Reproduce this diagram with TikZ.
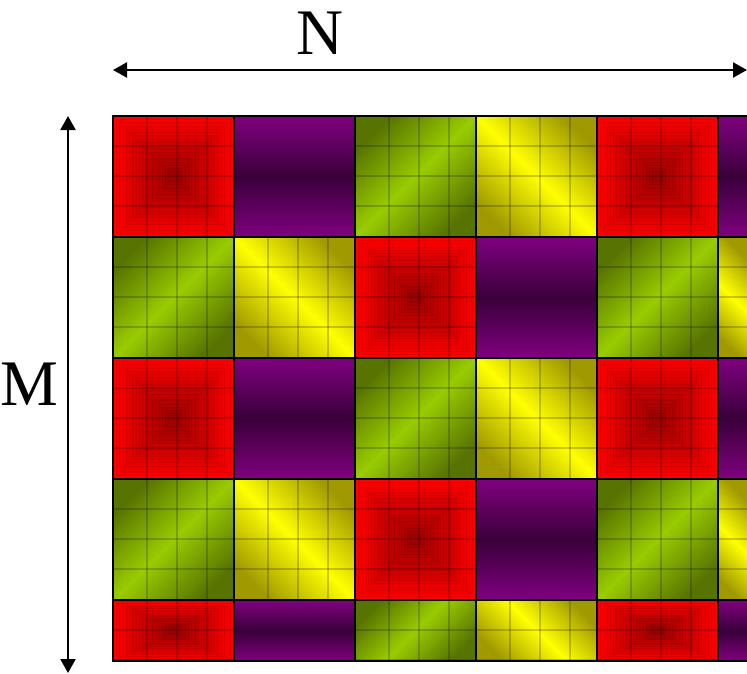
\documentclass[tikz,border=0pt]{standalone}
\usepackage{fontspec}
\setmainfont{Liberation Serif}
\usetikzlibrary{arrows.meta}
\definecolor{purpA}{HTML}{800080}
\definecolor{purpB}{HTML}{3A003A}
\definecolor{grnDark}{HTML}{587400}
\definecolor{grnBright}{HTML}{99CC00}
\definecolor{ylwDark}{HTML}{A09A00}
\definecolor{ylwBright}{HTML}{FFFF00}
\begin{document}
\begin{tikzpicture}[x=1pt,y=-1pt,
  cellborder/.style={draw=black,line width=2pt},
  subline/.style={draw=black,draw opacity=0.2,line width=1.8pt},
  dimarrow/.style={{Triangle[length=14pt,width=15pt]}-{Triangle[length=14pt,width=15pt]},line width=2.2pt},
  lbl/.style={font=\fontsize{65}{70}\selectfont,inner sep=0pt},
  purplecell/.style={top color=purpA,bottom color=purpA,middle color=purpB},
  greencell/.style={top color=grnDark,bottom color=grnDark,middle color=grnBright,shading angle=45},
  yellowcell/.style={top color=ylwDark,bottom color=ylwDark,middle color=ylwBright,shading angle=-45}]
\useasboundingbox (0,0) rectangle (747,673);
% cells
\foreach \x/\w [count=\c from 0] in {113/121,234/121,355/121,476/121,597/121,718/29}{
  \foreach \y/\h [count=\r from 0] in {116/121,237/121,358/121,479/121,600/61}{
    \pgfmathtruncatemacro\t{mod(\c+2*mod(\r,2),4)}
    \ifcase\t
      % red: concentric rectangles
      \fill[red] (\x,\y) rectangle ++(\w,\h);
      \foreach \i in {1,...,17}{
        \pgfmathtruncatemacro\pct{100-2.2*\i}
        \pgfmathtruncatemacro\pcd{94-2.2*\i}
        \fill[red!\pct!black,draw=red!\pcd!black,line width=0.5pt]
          ({\x+\i*\w/37},{\y+\i*\h/37}) rectangle ({\x+\w-\i*\w/37},{\y+\h-\i*\h/37});
      }
    \or
      \shade[purplecell] (\x,\y) rectangle ++(\w,\h);
    \or
      \shade[greencell] (\x,\y) rectangle ++(\w,\h);
    \or
      \shade[yellowcell] (\x,\y) rectangle ++(\w,\h);
    \fi
    \ifnum\t=1\relax\else
      \begin{scope}
        \clip (\x,\y) rectangle ++(\w,\h);
        \foreach \o in {34,64,94}{\draw[subline] ({\x+\o},\y) -- ++(0,\h);}
        \foreach \o in {30,60,90}{\draw[subline] (\x,{\y+\o}) -- ++(\w,0);}
      \end{scope}
    \fi
  }
}
% cell borders
\foreach \x in {113,234,355,476,597,718}{\draw[cellborder] (\x,116) -- (\x,661);}
\foreach \y in {116,237,358,479,600,661}{\draw[cellborder] (112,\y) -- (760,\y);}
% dimension arrows and labels
\coordinate (nL) at (113,70);
\coordinate (nR) at (747,70);
\draw[dimarrow] (nL) -- (nR);
\node[lbl] (N) at (320,33) {N};
\coordinate (mT) at (68,116);
\coordinate (mB) at (68,673);
\draw[dimarrow] (mT) -- (mB);
\node[lbl] (M) at (29,384) {M};
\end{tikzpicture}
\end{document}
